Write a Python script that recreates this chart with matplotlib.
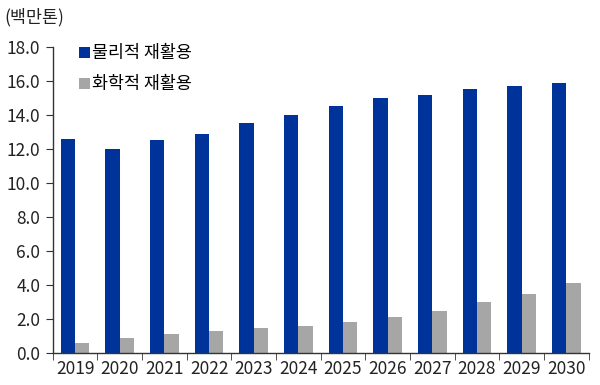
import numpy as np
import matplotlib
matplotlib.use("Agg")
import matplotlib.pyplot as plt

plt.rcParams['font.family'] = ['Noto Sans CJK KR', 'DejaVu Sans']

years = ["2019", "2020", "2021", "2022", "2023", "2024", "2025", "2026", "2027", "2028", "2029", "2030"]
physical = [12.6, 12.0, 12.5, 12.9, 13.5, 14.0, 14.5, 15.0, 15.2, 15.5, 15.7, 15.9]
chemical = [0.6, 0.9, 1.1, 1.3, 1.5, 1.6, 1.8, 2.1, 2.5, 3.0, 3.5, 4.1]
yticks = [0.0, 2.0, 4.0, 6.0, 8.0, 10.0, 12.0, 14.0, 16.0, 18.0]

BLUE = "#003399"
GRAY = "#a6a6a6"

fig = plt.figure(figsize=(6.0, 3.85), dpi=100)
ax = fig.add_axes([0.088, 0.083, 0.893, 0.795])

x = np.arange(len(years))
w = 0.32
ax.bar(x - w / 2, physical, w, color=BLUE, label="물리적 재활용")
ax.bar(x + w / 2, chemical, w, color=GRAY, label="화학적 재활용")

ax.set_xlim(-0.5, len(years) - 0.5)
ax.set_ylim(0, 18)
ax.set_yticks(yticks)
ax.set_yticklabels([f"{v:.1f}" for v in yticks], fontsize=12.5, color="#222222")
ax.set_xticks(x)
ax.set_xticklabels(years, fontsize=12.5, color="#222222")
ax.set_xticks(np.arange(-0.5, len(years)), minor=True)
ax.tick_params(axis="x", which="major", length=0, pad=5)
ax.tick_params(axis="x", which="minor", length=5, direction="out", color="#333333")
ax.tick_params(axis="y", length=5, direction="out", color="#333333", pad=4)

for s in ["top", "right"]:
    ax.spines[s].set_visible(False)
for s in ["left", "bottom"]:
    ax.spines[s].set_color("#333333")
    ax.spines[s].set_linewidth(1.0)

ax.legend(loc="upper left", bbox_to_anchor=(0.02, 1.06), frameon=False, fontsize=12.5,
          handlelength=0.6, handleheight=0.6, handletextpad=0.15, labelspacing=0.75)

fig.text(0.008, 0.955, "(백만톤)", fontsize=12.5, color="#222222", va="center")

fig.savefig("out.png", dpi=100)
